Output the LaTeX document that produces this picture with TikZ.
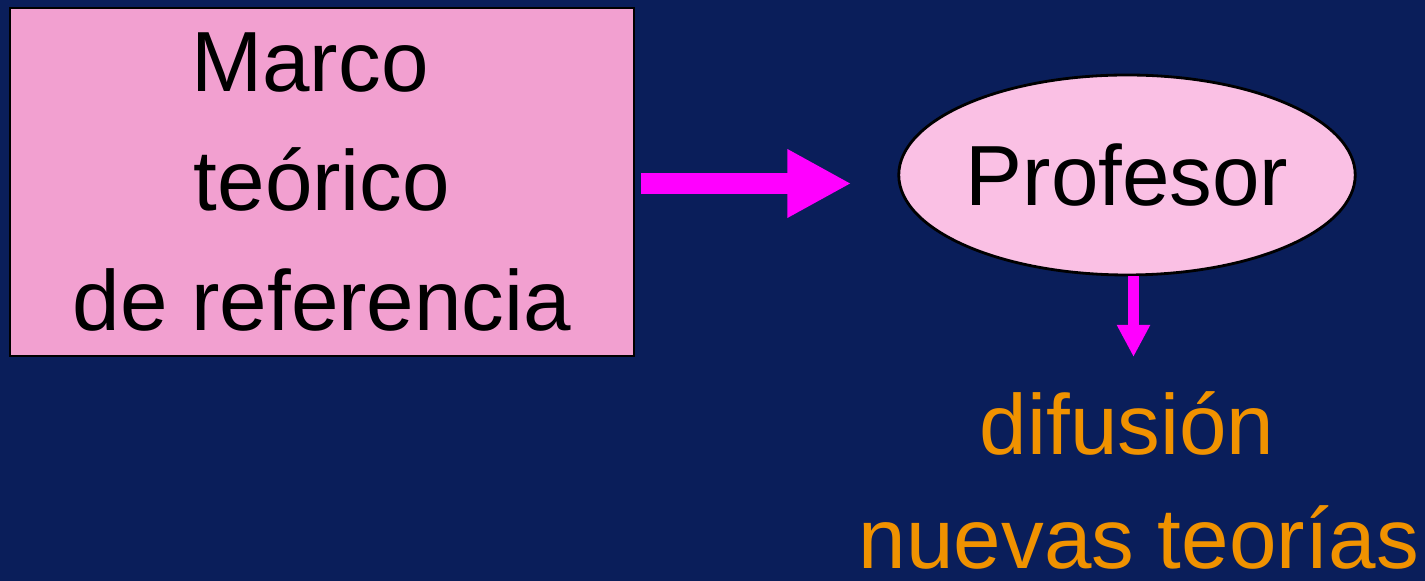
\documentclass[tikz,border=0pt]{standalone}
\usepackage{fontspec}
\setmainfont{Liberation Sans}
\definecolor{BgBlue}{RGB}{10, 30, 90}
\definecolor{BoxPink}{RGB}{242, 160, 208}
\definecolor{OvalPink}{RGB}{250, 192, 228}
\definecolor{ArrowMagenta}{RGB}{255, 0, 255}
\definecolor{TextOrange}{RGB}{240, 146, 0}
\usetikzlibrary{arrows.meta, positioning, shapes.geometric, calc}

\begin{document}
\begin{tikzpicture}[
        box/.style={rectangle, draw=black, line width=0.8pt, fill=BoxPink, minimum width=6.24cm, minimum height=3.48cm, align=center, font=\fontsize{24.3}{34}\selectfont},
        oval/.style={ellipse, draw=black, line width=0.8pt, fill=OvalPink, minimum width=4.56cm, minimum height=2.0cm, inner sep=0pt, font=\fontsize{24.3}{34}\selectfont},
        label/.style={text=TextOrange, anchor=base, inner sep=0pt, font=\fontsize{24.3}{34}\selectfont},
        arrow/.style={-{Triangle[length=0.64cm, width=0.64cm]}, line width=0.21cm, ArrowMagenta},
        smallarrow/.style={-{Triangle[length=0.32cm, width=0.31cm]}, line width=0.11cm, ArrowMagenta}
    ]
        % background
        \fill[BgBlue] (0, 0) rectangle (14.25, -5.81);
        \useasboundingbox (0, 0) rectangle (14.25, -5.81);

        % theory box and teacher
        \node[box] (marco) at (3.22, -1.82) {Marco\hspace*{0.24cm}\\teórico\hspace*{0.44cm}\\de referencia};
        \node[oval] (profesor) at (11.27, -1.75) {Profesor};
        \draw[arrow, shorten <=0.06cm, shorten >=0.46cm] ([yshift=-0.015cm]marco.east) -- ([yshift=-0.015cm]marco.east -| profesor.west);

        % diffusion
        \node[label] (difusion) at (11.27, -4.55) {difusión};
        \node[label] (nuevas) at (11.39, -5.69) {nuevas teorías};
        \coordinate (tip) at (11.335, -3.57);
        \draw[smallarrow] (profesor.south -| tip) -- (tip);
    \end{tikzpicture}
\end{document}
